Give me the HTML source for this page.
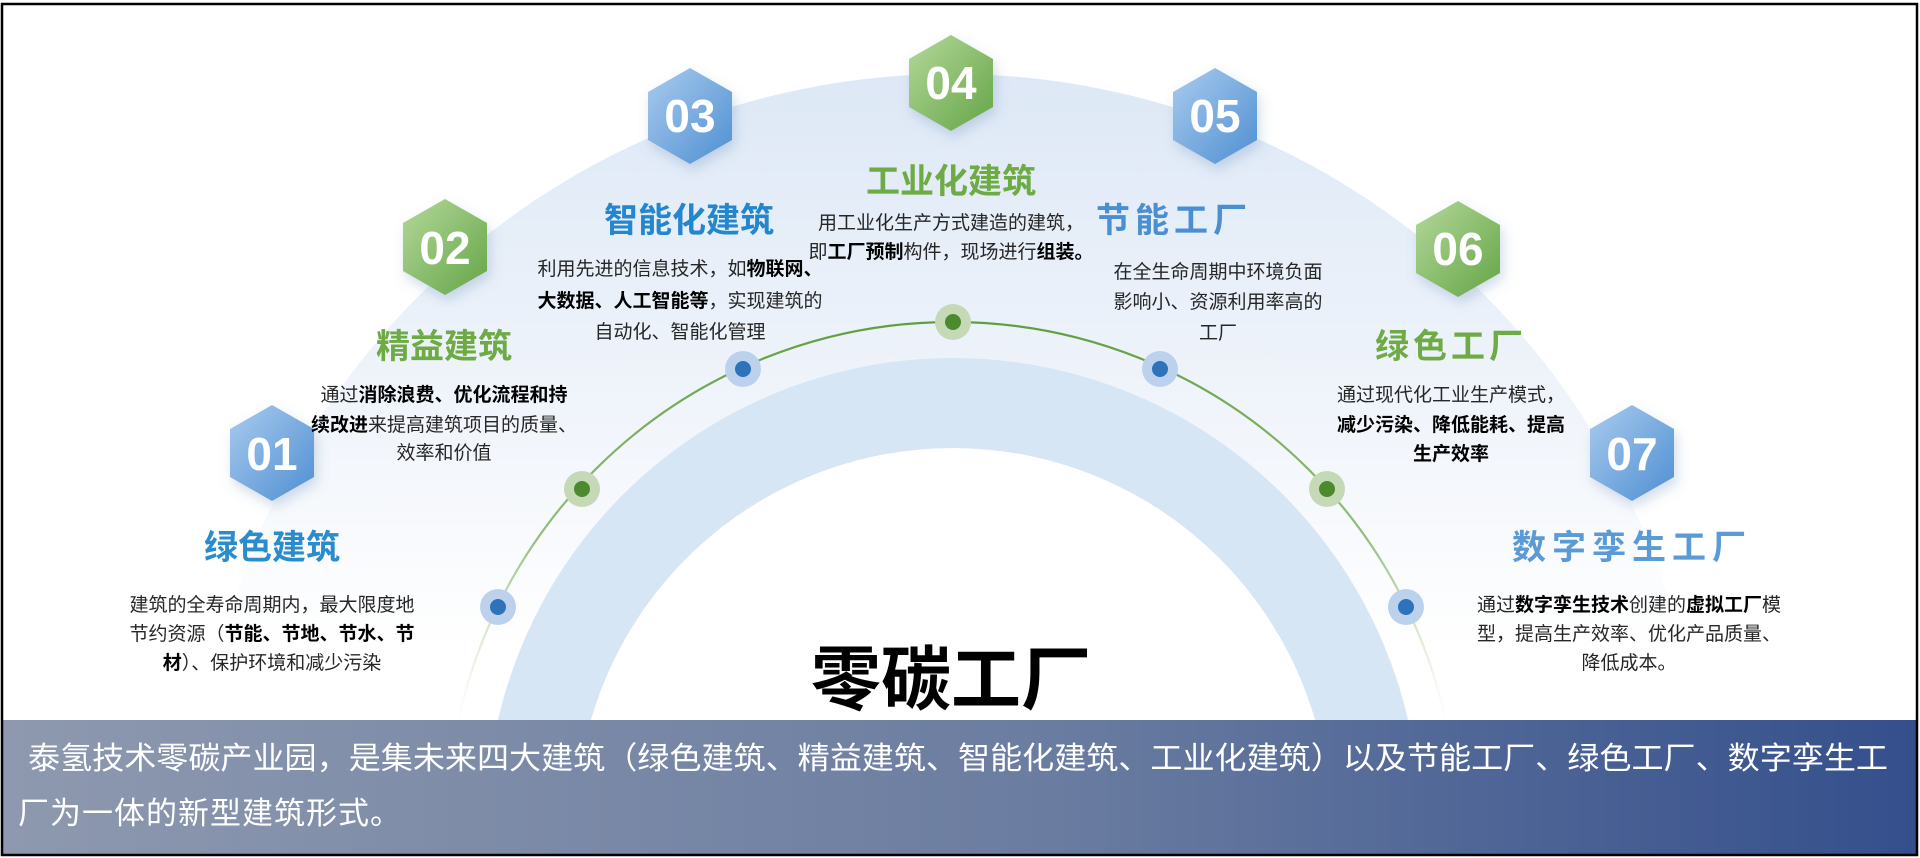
<!DOCTYPE html>
<html><head><meta charset="utf-8"><style>
html,body{margin:0;padding:0;background:#fff;width:1920px;height:858px;overflow:hidden;}
svg{display:block;}
text{font-family:"Liberation Sans","Noto Sans CJK SC",sans-serif;}
.d{font-size:19px;fill:#262626;}
.b{font-weight:bold;fill:#000;}
.t{font-size:34px;font-weight:bold;}
.n{font-size:46px;font-weight:bold;fill:#fff;}
</style></head><body>
<svg width="1920" height="858" viewBox="0 0 1920 858" xmlns="http://www.w3.org/2000/svg">
<defs>
<linearGradient id="dk" x1="0" y1="75" x2="0" y2="650" gradientUnits="userSpaceOnUse">
<stop offset="0" stop-color="#dde8f6"/><stop offset="0.6" stop-color="#f1f5fb"/><stop offset="1" stop-color="#ffffff"/>
</linearGradient>
<linearGradient id="band" x1="0" y1="0" x2="1" y2="0">
<stop offset="0" stop-color="#8e99af"/><stop offset="0.55" stop-color="#6a7ca0"/><stop offset="1" stop-color="#344f8c"/>
</linearGradient>
<linearGradient id="hb" x1="0" y1="0" x2="1" y2="1">
<stop offset="0" stop-color="#a9cbee"/><stop offset="1" stop-color="#4f8fd2"/>
</linearGradient>
<linearGradient id="hg" x1="0" y1="0" x2="1" y2="1">
<stop offset="0" stop-color="#b4d89a"/><stop offset="1" stop-color="#64a546"/>
</linearGradient>
<linearGradient id="arcg" x1="0" y1="320" x2="0" y2="720" gradientUnits="userSpaceOnUse">
<stop offset="0" stop-color="#5f9e3e" stop-opacity="1"/><stop offset="0.55" stop-color="#7fb060" stop-opacity="0.8"/><stop offset="0.9" stop-color="#a9cf90" stop-opacity="0.15"/><stop offset="1" stop-color="#a9cf90" stop-opacity="0"/>
</linearGradient>
<filter id="sh" x="-50%" y="-50%" width="200%" height="200%">
<feDropShadow dx="3" dy="6" stdDeviation="6" flood-color="#6b8fb8" flood-opacity="0.3"/>
</filter>
<clipPath id="top"><rect x="0" y="0" width="1920" height="720"/></clipPath>
</defs>
<rect x="0" y="0" width="1920" height="858" fill="#fff"/>
<g clip-path="url(#top)">
<circle cx="952" cy="826" r="752" fill="url(#dk)"/>
<circle cx="953" cy="825" r="467" fill="#d7e6f4"/>
<circle cx="953" cy="825" r="377" fill="#ffffff"/>
<circle cx="952" cy="827" r="505" fill="none" stroke="url(#arcg)" stroke-width="2.2"/>
</g>
<g>
<circle cx="498" cy="607" r="18" fill="#bcd2ec"/><circle cx="498" cy="607" r="8" fill="#2e72ba"/>
<circle cx="582" cy="489" r="18" fill="#c5d9b6"/><circle cx="582" cy="489" r="8" fill="#4b8a2d"/>
<circle cx="743" cy="369" r="18" fill="#bcd2ec"/><circle cx="743" cy="369" r="8" fill="#2e72ba"/>
<circle cx="953" cy="322" r="18" fill="#c5d9b6"/><circle cx="953" cy="322" r="8" fill="#4b8a2d"/>
<circle cx="1160" cy="369" r="18" fill="#bcd2ec"/><circle cx="1160" cy="369" r="8" fill="#2e72ba"/>
<circle cx="1327" cy="489" r="18" fill="#c5d9b6"/><circle cx="1327" cy="489" r="8" fill="#4b8a2d"/>
<circle cx="1406" cy="607" r="18" fill="#bcd2ec"/><circle cx="1406" cy="607" r="8" fill="#2e72ba"/>
</g>
<g filter="url(#sh)">
<polygon points="272,405 314,429 314,477 272,501 230,477 230,429" fill="url(#hb)"/>
<polygon points="445,199 487,223 487,271 445,295 403,271 403,223" fill="url(#hg)"/>
<polygon points="690,68 732,92 732,140 690,164 648,140 648,92" fill="url(#hb)"/>
<polygon points="951,35 993,59 993,107 951,131 909,107 909,59" fill="url(#hg)"/>
<polygon points="1215,68 1257,92 1257,140 1215,164 1173,140 1173,92" fill="url(#hb)"/>
<polygon points="1458,201 1500,225 1500,273 1458,297 1416,273 1416,225" fill="url(#hg)"/>
<polygon points="1632,405 1674,429 1674,477 1632,501 1590,477 1590,429" fill="url(#hb)"/>
</g>
<g text-anchor="middle">
<text class="n" x="272" y="470">01</text>
<text class="n" x="445" y="264">02</text>
<text class="n" x="690" y="132">03</text>
<text class="n" x="951" y="99">04</text>
<text class="n" x="1215" y="132">05</text>
<text class="n" x="1458" y="265">06</text>
<text class="n" x="1632" y="470">07</text>
<text class="t" x="272" y="559" fill="#2b8ccb">绿色建筑</text>
<text class="t" x="444" y="358" fill="#6eab45">精益建筑</text>
<text class="t" x="689" y="232" fill="#2486cc">智能化建筑</text>
<text class="t" x="951" y="193" fill="#6eab45">工业化建筑</text>
<text class="t" x="1174" y="232" fill="#4c8fd0" letter-spacing="5">节能工厂</text>
<text class="t" x="1451" y="358" fill="#6eab45" letter-spacing="4">绿色工厂</text>
<text class="t" x="1632" y="559" fill="#5a9ad6" letter-spacing="6">数字孪生工厂</text>
<text class="d" x="272" y="611">建筑的全寿命周期内，最大限度地</text>
<text class="d" x="272" y="640">节约资源（<tspan class="b">节能、节地、节水、节</tspan></text>
<text class="d" x="272" y="669"><tspan class="b">材</tspan>）、保护环境和减少污染</text>
<text class="d" x="444" y="401">通过<tspan class="b">消除浪费、优化流程和持</tspan></text>
<text class="d" x="444" y="431"><tspan class="b">续改进</tspan>来提高建筑项目的质量、</text>
<text class="d" x="444" y="459">效率和价值</text>
<text class="d" x="680" y="275">利用先进的信息技术，如<tspan class="b">物联网、</tspan></text>
<text class="d" x="680" y="307"><tspan class="b">大数据、人工智能等</tspan>，实现建筑的</text>
<text class="d" x="680" y="338">自动化、智能化管理</text>
<text class="d" x="951" y="229">用工业化生产方式建造的建筑，</text>
<text class="d" x="951" y="258">即<tspan class="b">工厂预制</tspan>构件，现场进行<tspan class="b">组装。</tspan></text>
<text class="d" x="1218" y="278">在全生命周期中环境负面</text>
<text class="d" x="1218" y="308">影响小、资源利用率高的</text>
<text class="d" x="1218" y="339">工厂</text>
<text class="d" x="1451" y="401">通过现代化工业生产模式，</text>
<text class="d" x="1451" y="431"><tspan class="b">减少污染、降低能耗、提高</tspan></text>
<text class="d" x="1451" y="460"><tspan class="b">生产效率</tspan></text>
<text class="d" x="1629" y="611">通过<tspan class="b">数字孪生技术</tspan>创建的<tspan class="b">虚拟工厂</tspan>模</text>
<text class="d" x="1629" y="640">型，提高生产效率、优化产品质量、</text>
<text class="d" x="1629" y="669">降低成本。</text>
<text x="951" y="704" font-size="70" font-weight="bold" fill="#000">零碳工厂</text>
</g>
<rect x="2" y="720" width="1916" height="134" fill="url(#band)"/>
<text x="28" y="769" font-size="31" fill="#fff" textLength="1860" lengthAdjust="spacingAndGlyphs">泰氢技术零碳产业园，是集未来四大建筑（绿色建筑、精益建筑、智能化建筑、工业化建筑）以及节能工厂、绿色工厂、数字孪生工</text>
<text x="18" y="824" font-size="31" fill="#fff" letter-spacing="1">厂为一体的新型建筑形式。</text>
<rect x="2" y="4" width="1915" height="851" fill="none" stroke="#000" stroke-width="2.5"/>
</svg>
</body></html>
